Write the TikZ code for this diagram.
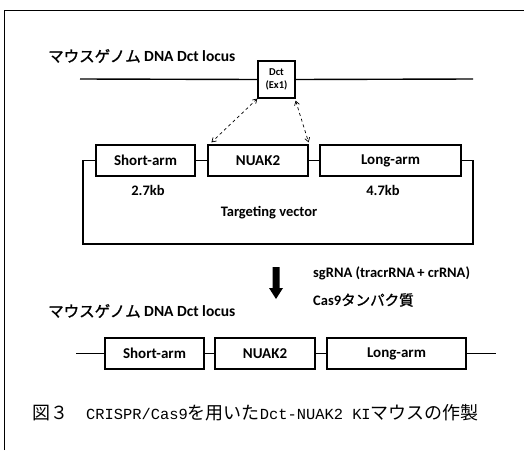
\documentclass[tikz,border=0pt]{standalone}
\usepackage{fontspec}
\setmainfont{Carlito}
\newfontfamily\jp{Noto Sans CJK JP}
\newfontfamily\jpm{Noto Sans CJK JP}[FakeBold=1.3]
\newfontfamily\capmono{Liberation Mono}
\usetikzlibrary{arrows.meta,calc}
\tikzset{
  seg/.style={draw, line width=1.2pt, minimum height=31pt, inner sep=0pt,
    font=\fontsize{15}{17}\selectfont\bfseries},
  exon/.style={draw, line width=1.2pt, minimum width=37pt, minimum height=37pt,
    inner sep=0pt, align=center, font=\fontsize{10.5}{13}\selectfont\bfseries},
  dna/.style={line width=1.4pt},
  link/.style={line width=1.1pt},
  lbl/.style={inner sep=0pt, font=\fontsize{14.5}{17}\selectfont\bfseries},
  ttl/.style={inner sep=0pt, anchor=west, font=\fontsize{15.5}{17}\selectfont\bfseries},
  homology/.style={dashed, line width=0.7pt, {Straight Barb[length=4pt,width=5pt]}-{Straight Barb[length=4pt,width=5pt]}},
}
\newcommand{\kana}[1]{{\jpm\mdseries #1}}
\begin{document}
\begin{tikzpicture}[x=1pt,y=-1pt]
\useasboundingbox (0,0) rectangle (524,450);
% page frame
\draw[line width=1pt] (4,450) -- (4,10) -- (524,10);

% genomic locus
\node[ttl] (title1) at (48,56) {\kana{マウスゲノム} DNA Dct locus};
\node[exon] (dct) at (276.5,79.5) {Dct\\(Ex1)};
\coordinate (gl) at (80,79);
\coordinate (gr) at (473,79);
\draw[dna] (gl) -- (dct.west);
\draw[dna] (dct.east) -- (gr);

% targeting vector
\node[seg, minimum width=99pt] (short) at (145.5,160.5) {Short-arm};
\node[seg, minimum width=100pt] (nuak) at (258,160.5) {NUAK2};
\node[seg, minimum width=141pt] (long) at (390.5,160.5) {Long-arm};
\draw[link] (short.east) -- (nuak.west);
\draw[link] (nuak.east) -- (long.west);
\coordinate (vl) at (83,160.5);
\coordinate (vr) at (473,160.5);
\draw[link] (short.west) -- (vl) -- (83,244) -- (473,244) -- (vr) -- (long.east);
\node[lbl] (kb1) at (148,190) {2.7kb};
\node[lbl] (kb2) at (383,190) {4.7kb};
\node[lbl] (tv) at (269,213) {Targeting vector};

% homologous recombination
\coordinate (h1) at ($(nuak.north west)+(4,-2)$);
\coordinate (h2) at ($(nuak.north east)+(0,-2)$);
\draw[homology] (dct.south west) -- (h1);
\draw[homology] ($(dct.south east)+(0,2)$) -- (h2);

% transition arrow
\fill (272.5,267) -- (279.5,267) -- (279.5,288) -- (283,288) -- (276,299)
  -- (269,288) -- (272.5,288) -- cycle;
\node[lbl, anchor=west] (sg) at (313,273) {sgRNA (tracrRNA\,+ crRNA)};
\node[lbl, anchor=west] (cas) at (313,300) {Cas9\kana{タンパク質}};

% knock-in allele
\node[ttl] (title2) at (48,311) {\kana{マウスゲノム} DNA Dct locus};
\node[seg, minimum width=99pt] (short2) at (154.5,353.5) {Short-arm};
\node[seg, minimum width=100pt] (nuak2) at (265,353.5) {NUAK2};
\node[seg, minimum width=139pt] (long2) at (396.5,353.5) {Long-arm};
\coordinate (kl) at (76,353.5);
\coordinate (kr) at (496,353.5);
\draw[link] (kl) -- (short2.west);
\draw[link] (short2.east) -- (nuak2.west);
\draw[link] (nuak2.east) -- (long2.west);
\draw[link] (long2.east) -- (kr);

% caption
\node[inner sep=0pt, anchor=west, font=\fontsize{18}{20}\selectfont\jp] (cap) at (32,413)
  {図３　{\capmono\fontsize{15.4}{20}\selectfont CRISPR/Cas9}を用いた{\capmono\fontsize{15.4}{20}\selectfont Dct-NUAK2 KI}マウスの作製};
\end{tikzpicture}
\end{document}
